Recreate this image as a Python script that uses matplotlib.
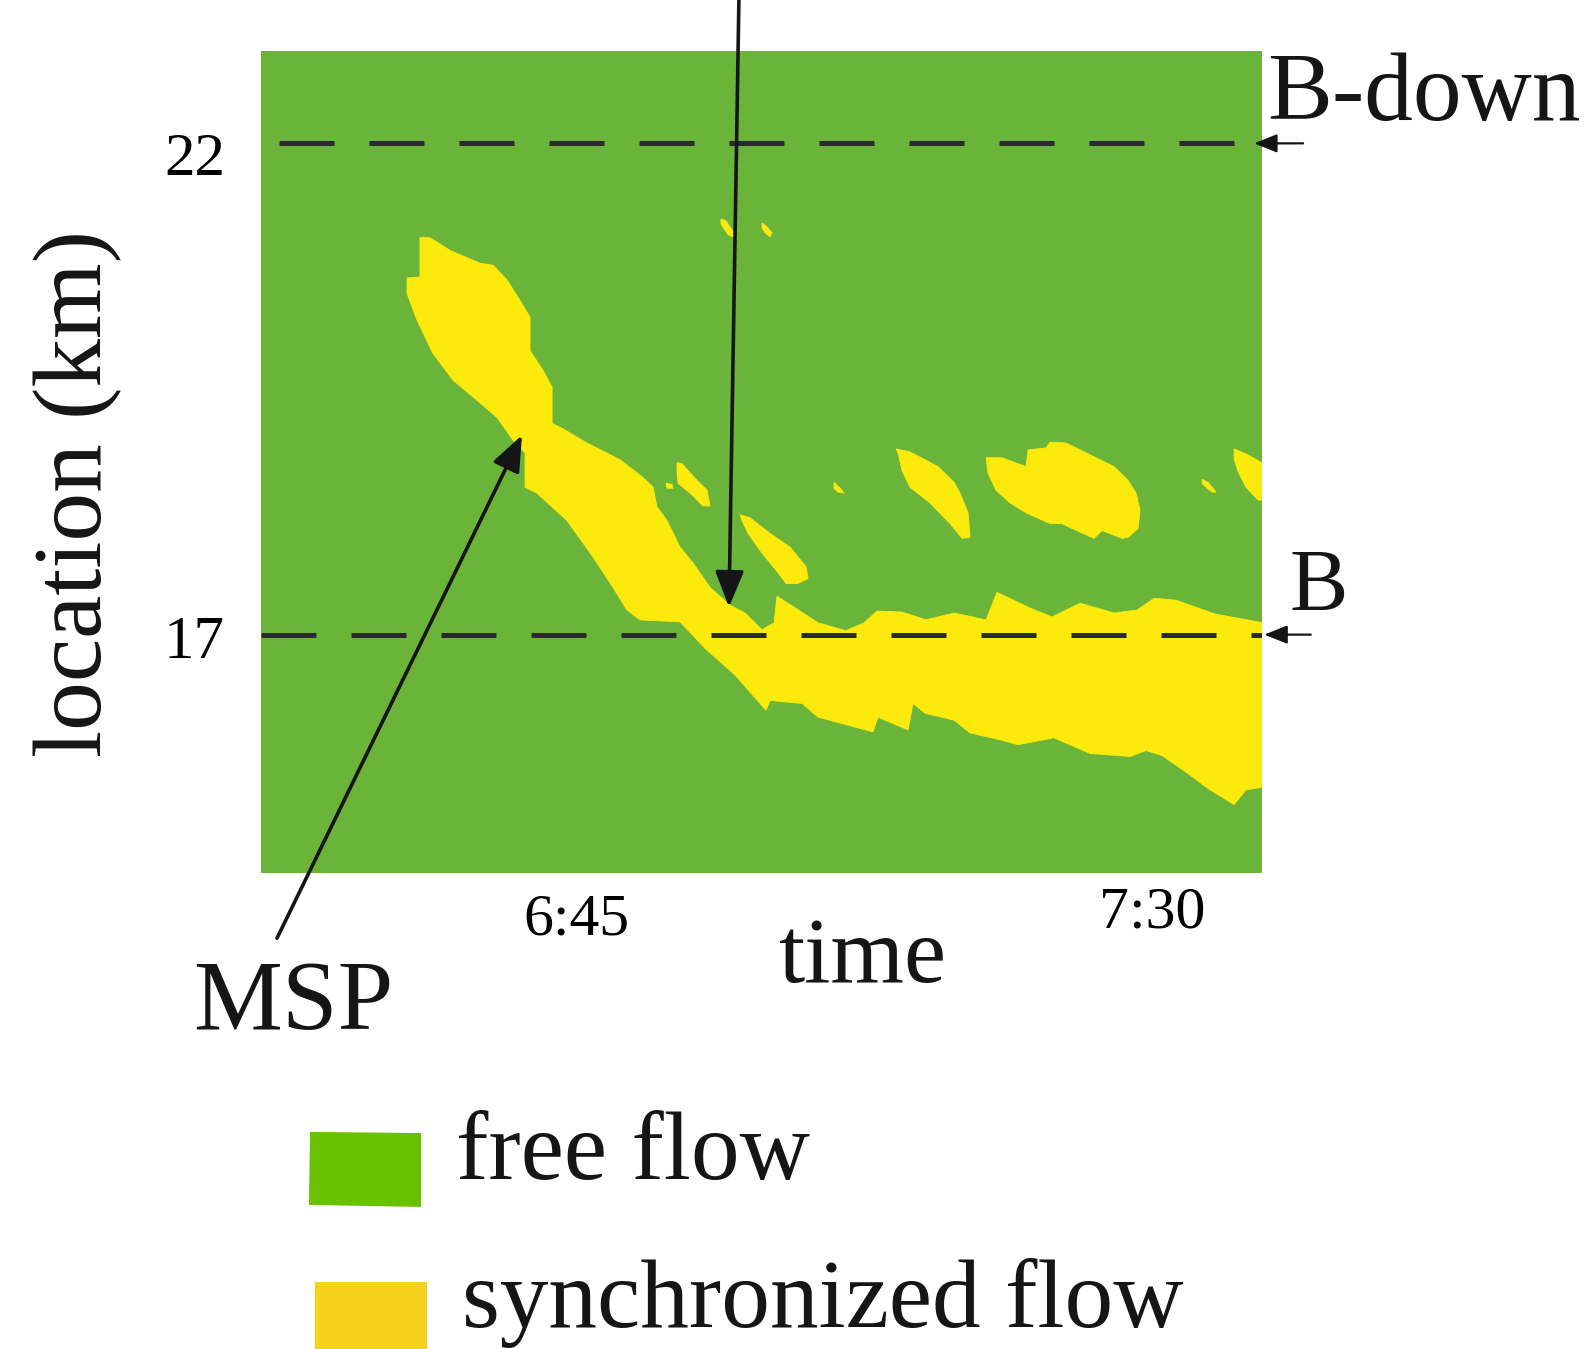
import matplotlib
matplotlib.use("Agg")
import matplotlib.pyplot as plt
import matplotlib.patches as mpatches
from matplotlib.transforms import ScaledTranslation

plt.rcParams['font.family'] = ['Liberation Serif', 'DejaVu Serif']

# time in minutes after 6:00, location in km
t_range = (20.39, 98.59)
km_range = (14.574, 22.94)
xticks = [45, 90]
xtick_labels = ['6:45', '7:30']
yticks = [17, 22]
ytick_labels = ['17', '22']
bottleneck_km = 17
bottleneck_down_km = 22

# main synchronized flow region (MSP + band at the bottleneck)
main_t = [32.81, 33.59, 35.16, 37.5, 38.52, 39.61, 40.63, 41.41, 41.41, 42.42, 43.13, 43.13,
          43.91, 45.86, 48.44, 50.23, 51.02, 51.33, 52.11, 53.13, 54.14, 55.47, 57.03, 58.20,
          59.53, 60.47, 60.70, 62.03, 63.91, 66.09, 67.5, 68.52, 70.47, 72.34, 74.53, 77.03,
          77.89, 80.47, 82.19, 84.38, 87.03, 88.83, 90.16, 91.88, 94.92, 98.7, 98.7, 97.34,
          96.41, 94.53, 92.66, 90.78, 89.53, 88.28, 85.16, 82.34, 79.53, 78.13, 75.78, 74.53,
          72.27, 71.33, 70.94, 68.59, 68.20, 65.63, 63.91, 62.66, 60.16, 59.84, 57.42, 55.08,
          53.13, 50.0, 48.98, 47.89, 46.33, 44.30, 41.95, 41.02, 41.02, 40.08, 38.83, 36.95,
          35.39, 33.83, 32.58, 31.80, 31.80, 32.81]
main_km = [21.04, 21.04, 20.91, 20.78, 20.76, 20.61, 20.40, 20.23, 19.89, 19.69, 19.52, 19.15,
           19.10, 18.95, 18.78, 18.60, 18.50, 18.30, 18.16, 17.89, 17.73, 17.48, 17.30, 17.22,
           17.05, 17.12, 17.39, 17.28, 17.12, 17.04, 17.12, 17.24, 17.23, 17.15, 17.22, 17.15,
           17.43, 17.27, 17.18, 17.32, 17.22, 17.25, 17.37, 17.35, 17.21, 17.12, 15.45, 15.42,
           15.27, 15.42, 15.60, 15.77, 15.82, 15.76, 15.79, 15.95, 15.88, 15.93, 16.00, 16.13,
           16.20, 16.30, 16.03, 16.16, 16.01, 16.10, 16.16, 16.30, 16.33, 16.23, 16.59, 16.86,
           17.13, 17.15, 17.25, 17.48, 17.79, 18.16, 18.44, 18.50, 18.85, 18.98, 19.21, 19.42,
           19.59, 19.86, 20.20, 20.47, 20.63, 20.64]

# smaller synchronized flow patches
blob_a_t = [52.89, 53.28, 54.45, 55.23, 55.47, 54.92, 53.91, 52.97, 52.89]
blob_a_km = [18.75, 18.74, 18.57, 18.47, 18.31, 18.31, 18.44, 18.54, 18.64]
blob_b_t = [57.81, 58.59, 60.16, 61.72, 62.97, 63.13, 62.34, 61.41, 60.78, 59.53, 58.44, 57.97]
blob_b_km = [18.22, 18.19, 18.03, 17.89, 17.69, 17.57, 17.52, 17.52, 17.63, 17.83, 18.03, 18.16]
blob_c_t = [70.0, 71.09, 73.28, 74.53, 75.0, 75.63, 75.78, 75.16, 74.22, 72.66, 71.09, 70.47, 70.16]
blob_c_km = [18.89, 18.86, 18.71, 18.55, 18.44, 18.24, 17.99, 17.98, 18.13, 18.34, 18.50, 18.67, 18.85]
blob_d_t = [77.03, 78.28, 80.16, 80.31, 81.72, 82.03, 83.28, 85.16, 87.03, 88.13, 88.75, 89.06,
            88.91, 88.13, 87.66, 86.09, 85.47, 83.59, 82.97, 82.03, 80.16, 78.91, 77.81, 77.19]
blob_d_km = [18.80, 18.80, 18.71, 18.88, 18.90, 18.96, 18.95, 18.83, 18.71, 18.57, 18.44, 18.27,
             18.08, 17.99, 17.98, 18.06, 17.98, 18.09, 18.13, 18.13, 18.24, 18.34, 18.47, 18.64]
blob_e_t = [96.41, 97.34, 98.7, 98.7, 98.28, 97.34, 96.72, 96.41]
blob_e_km = [18.89, 18.84, 18.74, 18.37, 18.37, 18.50, 18.66, 18.79]
blob_f_t = [93.91, 94.38, 94.69, 95.0, 94.69, 94.22, 93.91]
blob_f_km = [18.58, 18.55, 18.50, 18.45, 18.45, 18.50, 18.54]
blob_g_t = [65.16, 65.63, 65.94, 65.47, 65.16]
blob_g_km = [18.55, 18.49, 18.44, 18.45, 18.49]
blob_h_t = [56.33, 56.72, 57.34, 57.27, 56.88, 56.33]
blob_h_km = [21.23, 21.21, 21.09, 21.05, 21.07, 21.18]
blob_i_t = [59.53, 59.84, 60.31, 60.16, 59.77, 59.53]
blob_i_km = [21.19, 21.16, 21.09, 21.05, 21.09, 21.14]
blob_j_t = [52.03, 52.5, 52.58, 52.11]
blob_j_km = [18.54, 18.53, 18.49, 18.49]

blobs = [(main_t, main_km), (blob_a_t, blob_a_km), (blob_b_t, blob_b_km),
         (blob_c_t, blob_c_km), (blob_d_t, blob_d_km), (blob_e_t, blob_e_km),
         (blob_f_t, blob_f_km), (blob_g_t, blob_g_km), (blob_h_t, blob_h_km),
         (blob_i_t, blob_i_km), (blob_j_t, blob_j_km)]

# arrows: (tail_t, tail_km) -> (tip_t, tip_km)
top_arrow = ((57.73, 23.5), (56.95, 17.28))
msp_arrow = ((21.64, 13.91), (40.78, 19.03))

green = '#6ab43a'
yellow = '#fcea0c'
dash_color = '#2a2a2a'

fig = plt.figure(figsize=(15.9, 13.49), dpi=100)
ax = fig.add_axes([0.16415, 0.35286, 0.62956, 0.60934])
ax.set_facecolor(green)
for t, km in blobs:
    ax.fill(t, km, color=yellow, lw=0.6, ec=yellow)

ax.plot([21.8, 96.9], [bottleneck_down_km] * 2, color=dash_color, lw=3.6, dashes=(11, 7))
ax.plot(list(t_range), [bottleneck_km] * 2, color=dash_color, lw=3.6, dashes=(11, 7))

ax.set_xlim(*t_range)
ax.set_ylim(*km_range)
for s in ax.spines.values():
    s.set_visible(False)
ax.set_xticks(xticks, xtick_labels, fontsize=43)
ax.set_yticks(yticks, ytick_labels, fontsize=44)
ax.tick_params(axis='x', length=0, pad=15)
ax.tick_params(axis='y', length=0, pad=26)

# the labels in the original sit a little off their tick positions
xl = ax.get_xticklabels()
xl[1].set_transform(xl[1].get_transform() + ScaledTranslation(0, 0.07, fig.dpi_scale_trans))
yl = ax.get_yticklabels()
yl[0].set_transform(yl[0].get_transform() + ScaledTranslation(0, -0.02, fig.dpi_scale_trans))
yl[1].set_transform(yl[1].get_transform() + ScaledTranslation(0, -0.10, fig.dpi_scale_trans))

big_head = dict(arrowstyle='-|>,head_length=0.55,head_width=0.22', mutation_scale=40,
                lw=2.6, color='#151515', shrinkA=0, shrinkB=0)
ax.annotate('', xy=top_arrow[1], xytext=top_arrow[0], arrowprops=big_head,
            annotation_clip=False)
ax.annotate('', xy=msp_arrow[1], xytext=msp_arrow[0], arrowprops=big_head,
            annotation_clip=False)

small_head = dict(arrowstyle='-|>,head_length=0.5,head_width=0.2', mutation_scale=28,
                  lw=1.6, color='#151515', shrinkA=0, shrinkB=0)
ax.annotate('', xy=(97.97, bottleneck_down_km), xytext=(101.8, bottleneck_down_km),
            arrowprops=small_head, annotation_clip=False)
ax.annotate('', xy=(98.77, bottleneck_km), xytext=(102.4, bottleneck_km),
            arrowprops=small_head, annotation_clip=False)

tc = '#151515'
fig.text(0.7972, 0.9110, 'B-down', fontsize=70, color=tc, ha='left', va='baseline')
fig.text(0.8113, 0.5478, 'B', fontsize=63, color=tc, ha='left', va='baseline')
fig.text(0.1214, 0.2372, 'MSP', fontsize=72, color=tc, ha='left', va='baseline')
fig.text(0.5421, 0.2721, 'time', fontsize=68, color=tc, ha='center', va='baseline')
fig.text(0.0490, 0.6345, 'location (km)', fontsize=70, color=tc, ha='center', va='center',
         rotation=90)

# legend
fig.patches.append(mpatches.Polygon([(0.1950, 0.1609), (0.2648, 0.1601), (0.2648, 0.1053),
                                     (0.1943, 0.1068)], closed=True, fc='#69c200', ec='none',
                                    transform=fig.transFigure, figure=fig))
fig.patches.append(mpatches.Rectangle((0.1981, 0.0), 0.0705, 0.0497, fc='#f6d31a', ec='none',
                                      transform=fig.transFigure, figure=fig))
fig.text(0.2868, 0.1260, 'free flow', fontsize=70, color=tc, ha='left', va='baseline')
fig.text(0.2906, 0.0163, 'synchronized flow', fontsize=70, color=tc, ha='left', va='baseline')

fig.savefig('out.png', dpi=100)
